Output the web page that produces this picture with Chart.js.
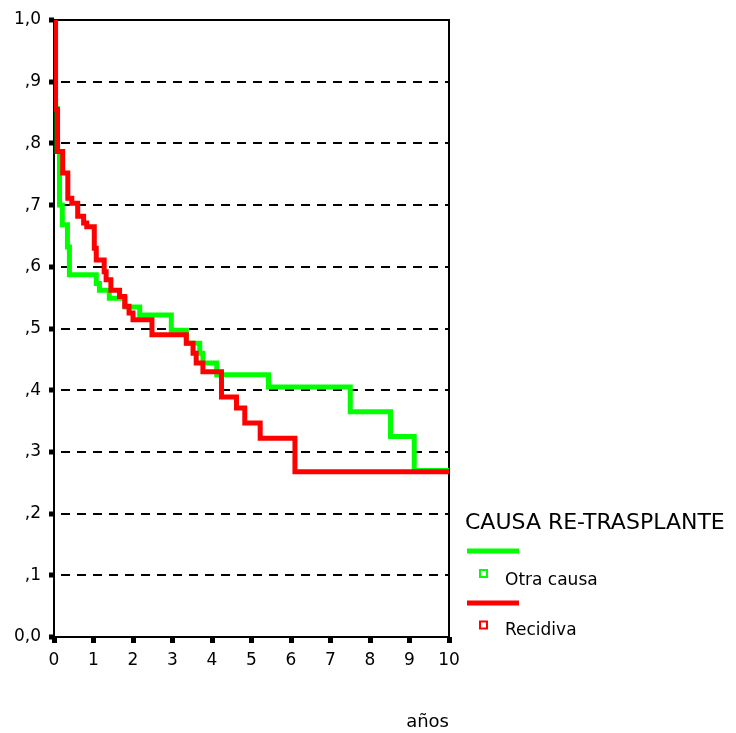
<!DOCTYPE html>
<html lang="es">
<head>
<meta charset="utf-8">
<title>Supervivencia por causa de re-trasplante</title>
<script src="https://cdn.jsdelivr.net/npm/chart.js"></script>
<style>
  html, body { margin: 0; padding: 0; background: #fff; }
  #wrap { width: 736px; height: 733px; }
</style>
</head>
<body>
<div id="wrap"><canvas id="kmChart" width="736" height="733"></canvas></div>
<script>
// Kaplan-Meier data (time in years, survival)
var recidivaT = [0, 0.04, 0.09, 0.22, 0.35, 0.45, 0.60, 0.75, 0.83, 1.02, 1.07, 1.27, 1.32, 1.44, 1.66, 1.79, 1.90, 2.00, 2.48, 3.35, 3.52, 3.60, 3.77, 4.24, 4.62, 4.83, 5.22, 6.10, 10];
var recidivaS = [1.0, 0.855, 0.787, 0.752, 0.711, 0.703, 0.682, 0.671, 0.665, 0.630, 0.611, 0.592, 0.579, 0.562, 0.552, 0.536, 0.525, 0.514, 0.490, 0.476, 0.460, 0.444, 0.430, 0.389, 0.371, 0.347, 0.322, 0.268, 0.268];

var otraT = [0, 0.03, 0.08, 0.14, 0.21, 0.34, 0.39, 1.07, 1.15, 1.40, 1.80, 2.17, 2.97, 3.35, 3.69, 3.77, 4.12, 5.43, 7.50, 8.52, 9.12, 10];
var otraS = [1.0, 0.857, 0.787, 0.700, 0.668, 0.632, 0.587, 0.573, 0.562, 0.549, 0.535, 0.522, 0.497, 0.476, 0.460, 0.444, 0.425, 0.405, 0.365, 0.325, 0.270, 0.270];

var yTickLabels = ['0,0', ',1', ',2', ',3', ',4', ',5', ',6', ',7', ',8', ',9', '1,0'];
var xTickLabels = ['0', '1', '2', '3', '4', '5', '6', '7', '8', '9', '10'];
var legendTitle = 'CAUSA RE-TRASPLANTE';
var seriesNames = ['Otra causa', 'Recidiva'];
var xTitle = 'años';

function toPoints(t, s) {
  return t.map(function (v, i) { return { x: v, y: s[i] }; });
}

var FONT = '"DejaVu Sans", Verdana, sans-serif';

// frame around the plot area, under the curves
var framePlugin = {
  id: 'frame',
  beforeDatasetsDraw: function (chart) {
    var a = chart.chartArea, c = chart.ctx;
    c.save();
    c.strokeStyle = '#000';
    c.lineWidth = 2;
    c.setLineDash([]);
    c.strokeRect(a.left, a.top, a.right - a.left, a.bottom - a.top);
    c.restore();
  }
};

// SPSS style legend on the right + axis title
var legendPlugin = {
  id: 'spssLegend',
  afterDraw: function (chart) {
    var c = chart.ctx;
    c.save();
    c.fillStyle = '#000';
    c.textBaseline = 'alphabetic';
    c.textAlign = 'left';
    c.font = '22px ' + FONT;
    c.fillText(legendTitle, 465, 529);

    c.fillStyle = '#00ff00';
    c.fillRect(467, 548.5, 52, 5);
    c.fillStyle = '#ff0000';
    c.fillRect(467, 600.5, 52, 5);

    c.lineWidth = 2;
    c.strokeStyle = '#00ff00';
    c.strokeRect(480, 570, 7, 7);
    c.strokeStyle = '#ff0000';
    c.strokeRect(480, 621.5, 7, 7);

    c.fillStyle = '#000';
    c.font = '17px ' + FONT;
    c.fillText(seriesNames[0], 505, 585);
    c.fillText(seriesNames[1], 505, 635);

    c.font = '18px ' + FONT;
    c.textAlign = 'right';
    c.fillText(xTitle, 449, 727);
    c.restore();
  }
};

var ctx = document.getElementById('kmChart').getContext('2d');
var kmChart = new Chart(ctx, {
  type: 'line',
  data: {
    datasets: [
      {
        label: seriesNames[1],
        data: toPoints(recidivaT, recidivaS),
        borderColor: '#ff0000',
        backgroundColor: '#ff0000',
        borderWidth: 5,
        stepped: true,
        pointRadius: 0,
        borderJoinStyle: 'miter',
        fill: false
      },
      {
        label: seriesNames[0],
        data: toPoints(otraT, otraS),
        borderColor: '#00ff00',
        backgroundColor: '#00ff00',
        borderWidth: 5,
        stepped: true,
        pointRadius: 0,
        borderJoinStyle: 'miter',
        fill: false
      }
    ]
  },
  options: {
    responsive: false,
    animation: false,
    events: [],
    layout: { padding: { top: 20, right: 287, left: 0, bottom: 0 } },
    plugins: {
      legend: { display: false },
      tooltip: { enabled: false },
      title: { display: false }
    },
    scales: {
      x: {
        type: 'linear',
        min: 0,
        max: 10,
        afterFit: function (scale) { scale.height = 96; },
        ticks: {
          stepSize: 1,
          padding: 7,
          color: '#000',
          font: { family: FONT, size: 17 },
          maxRotation: 0,
          callback: function (value, index) { return xTickLabels[index]; }
        },
        grid: {
          drawOnChartArea: false,
          drawTicks: true,
          tickLength: 6,
          tickWidth: 5,
          tickColor: '#000',
          tickBorderDash: []
        },
        border: { display: false }
      },
      y: {
        type: 'linear',
        min: 0,
        max: 1,
        afterFit: function (scale) { scale.width = 54; },
        ticks: {
          stepSize: 0.1,
          padding: 8,
          color: '#000',
          font: { family: FONT, size: 17 },
          callback: function (value, index) { return yTickLabels[index]; }
        },
        grid: {
          color: '#000',
          lineWidth: 2,
          drawTicks: true,
          tickLength: 5,
          tickWidth: 5,
          tickColor: '#000',
          tickBorderDash: []
        },
        border: { display: false, dash: [9, 7], dashOffset: 9 }
      }
    }
  },
  plugins: [framePlugin, legendPlugin]
});
</script>
</body>
</html>
